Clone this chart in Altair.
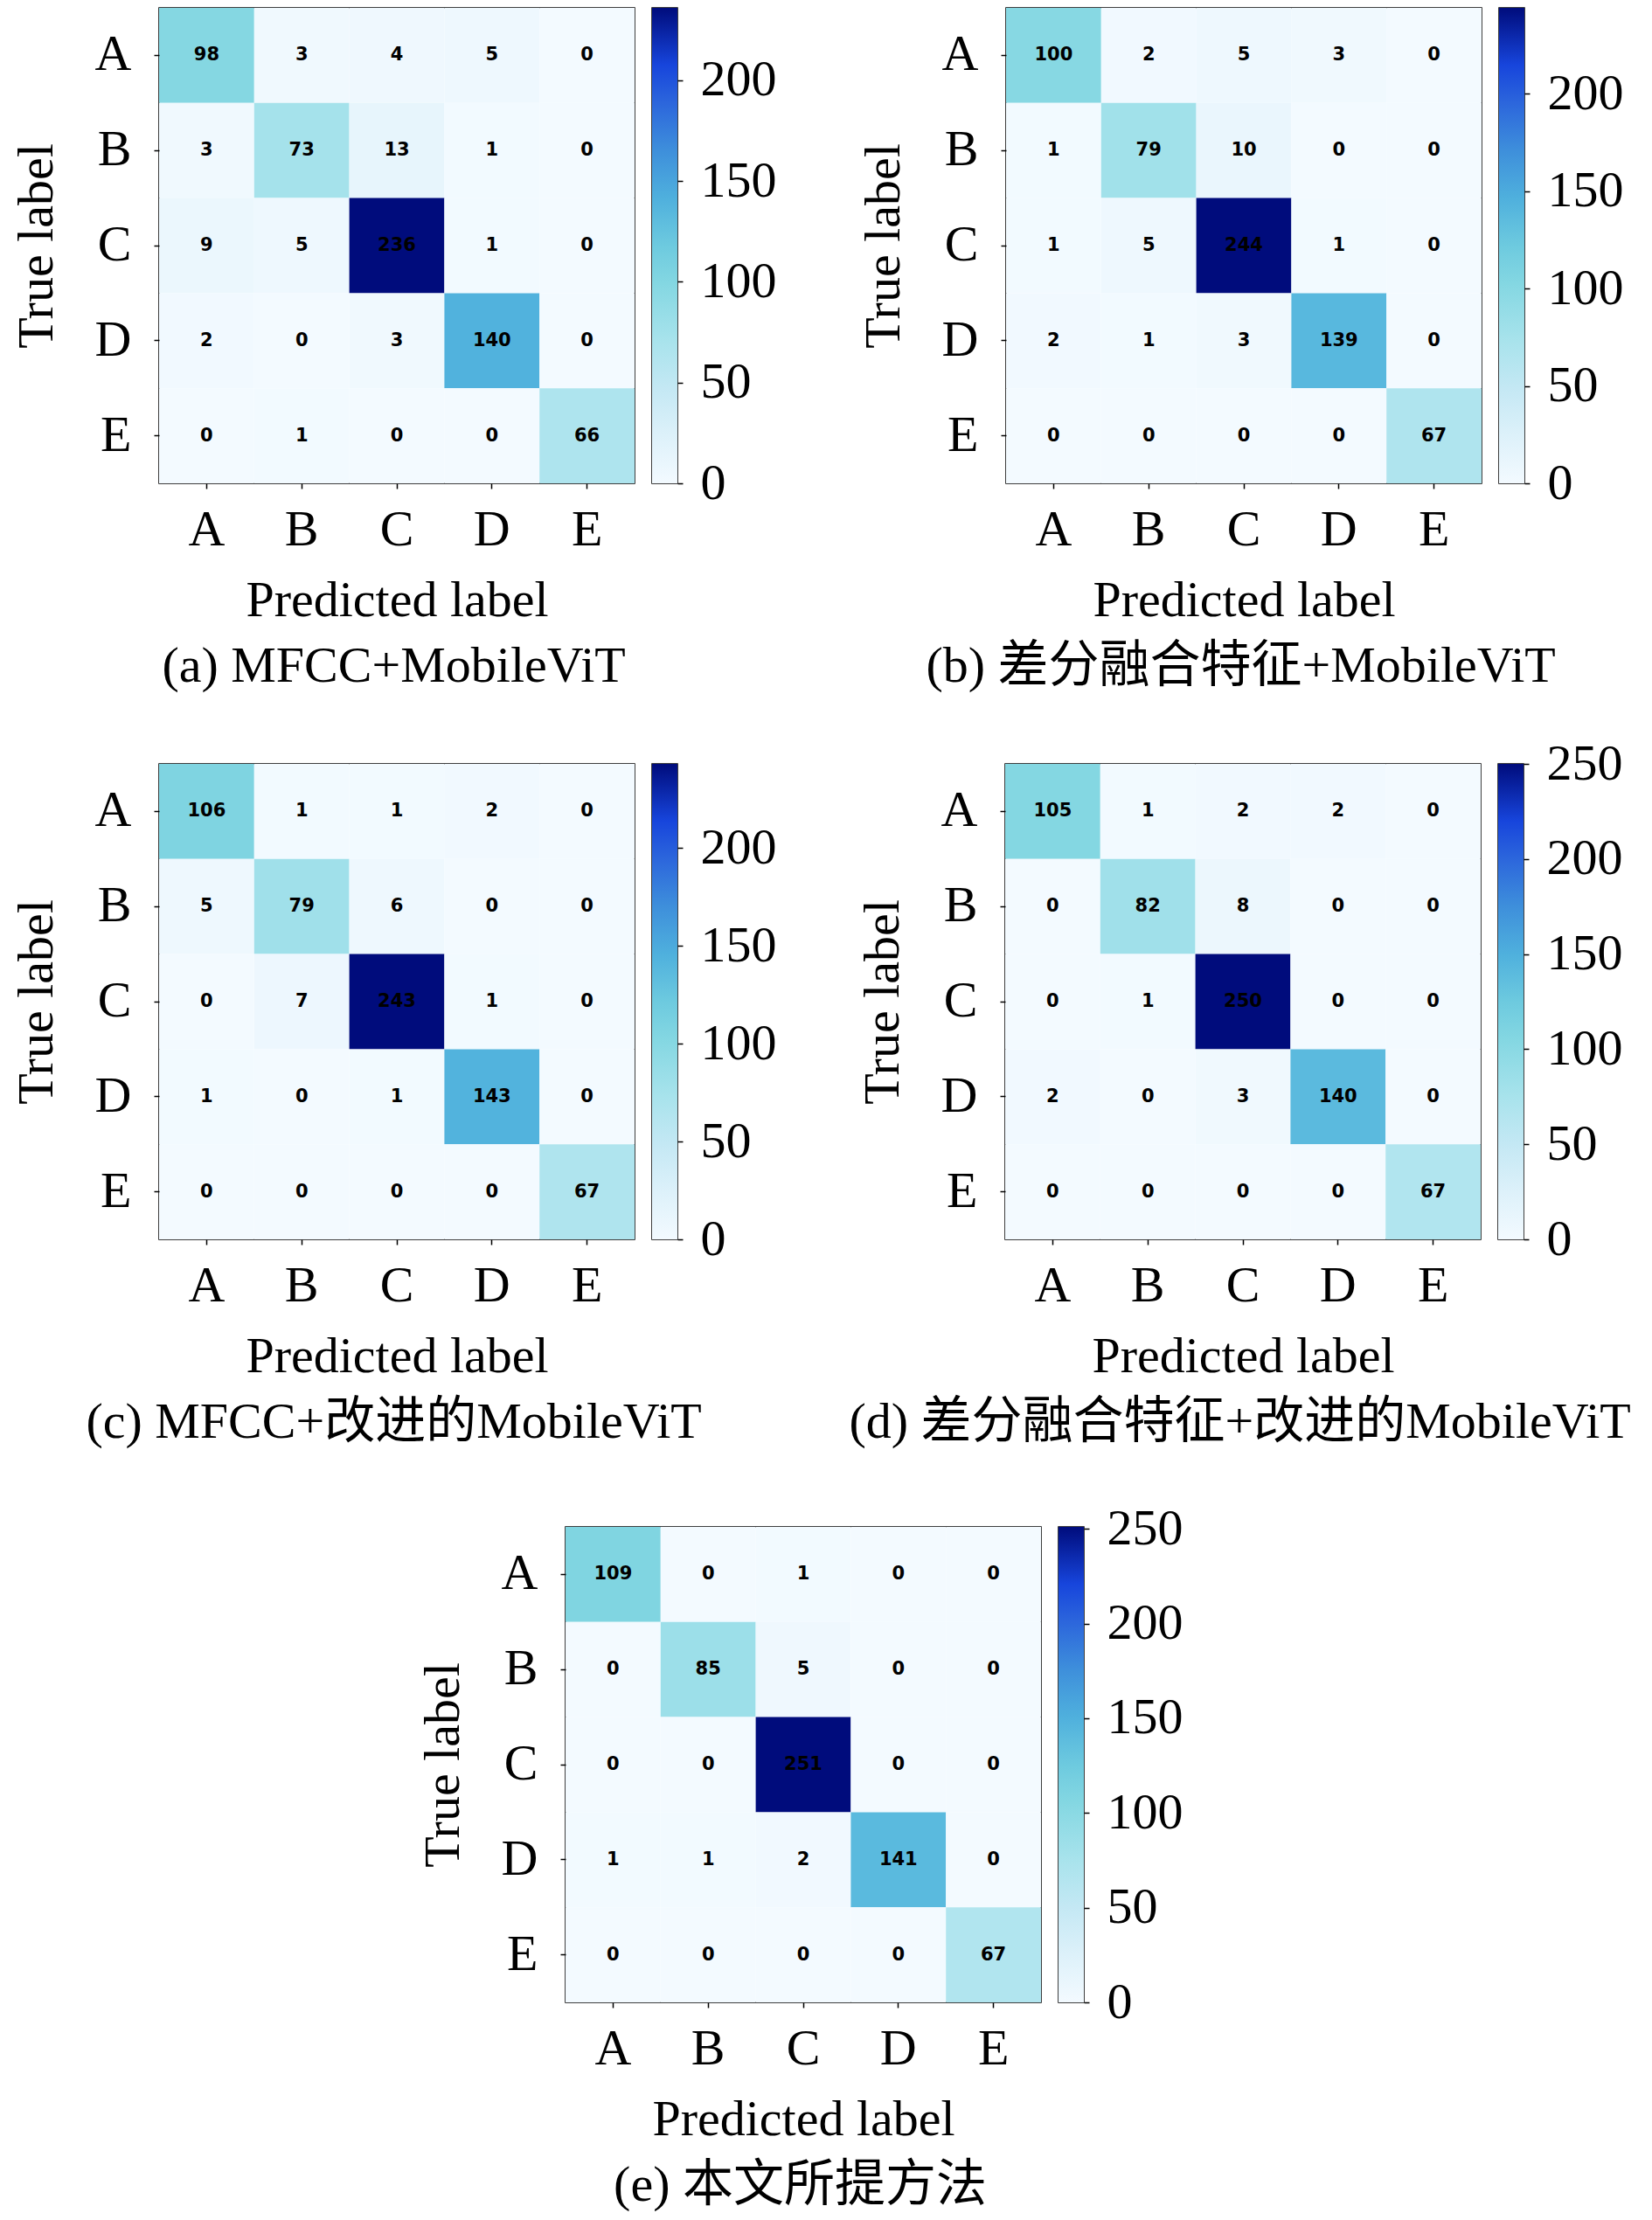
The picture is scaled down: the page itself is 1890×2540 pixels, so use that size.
import altair as alt
import pandas as pd

labels = ["A", "B", "C", "D", "E"]

cm_a = [[98, 3, 4, 5, 0], [3, 73, 13, 1, 0], [9, 5, 236, 1, 0], [2, 0, 3, 140, 0], [0, 1, 0, 0, 66]]
cm_b = [[100, 2, 5, 3, 0], [1, 79, 10, 0, 0], [1, 5, 244, 1, 0], [2, 1, 3, 139, 0], [0, 0, 0, 0, 67]]
cm_c = [[106, 1, 1, 2, 0], [5, 79, 6, 0, 0], [0, 7, 243, 1, 0], [1, 0, 1, 143, 0], [0, 0, 0, 0, 67]]
cm_d = [[105, 1, 2, 2, 0], [0, 82, 8, 0, 0], [0, 1, 250, 0, 0], [2, 0, 3, 140, 0], [0, 0, 0, 0, 67]]
cm_e = [[109, 0, 1, 0, 0], [0, 85, 5, 0, 0], [0, 0, 251, 0, 0], [1, 1, 2, 141, 0], [0, 0, 0, 0, 67]]

titles = [
    "(a) MFCC+MobileViT",
    "(b) 差分融合特征+MobileViT",
    "(c) MFCC+改进的MobileViT",
    "(d) 差分融合特征+改进的MobileViT",
    "(e) 本文所提方法",
]
cbar_ticks_a = [0, 50, 100, 150, 200]
cbar_ticks_b = [0, 50, 100, 150, 200]
cbar_ticks_c = [0, 50, 100, 150, 200]
cbar_ticks_d = [0, 50, 100, 150, 200, 250]
cbar_ticks_e = [0, 50, 100, 150, 200, 250]

# colormap stops (fraction of max, colour)
cmap_pos = [0.0, 0.1, 0.2, 0.3, 0.42, 0.5, 0.6, 0.7, 0.8, 0.88, 1.0]
cmap_col = ["#f3faff", "#ddf1fa", "#c4e8f4", "#a8e3ec", "#84d7e2", "#6dcadf",
            "#4fb0dd", "#3e8fdb", "#2c66dc", "#1745dc", "#000c7c"]

SERIF = "Liberation Serif, Noto Sans CJK SC"
FS = 58
SIZE = 544


def panel(cm, title, ticks):
    vmax = max(max(r) for r in cm)
    rows = []
    for i in range(5):
        for j in range(5):
            rows.append({"true": labels[i], "pred": labels[j], "count": cm[i][j]})
    df = pd.DataFrame(rows)
    base = alt.Chart(df).encode(
        x=alt.X("pred:N", sort=labels, axis=alt.Axis(
            title="Predicted label", labelAngle=0, labelFont=SERIF, labelFontSize=FS,
            labelColor="black", labelPadding=18, tickSize=6, tickColor="black", tickWidth=1.5,
            domain=False, titleFont=SERIF, titleFontSize=FS, titleFontWeight="normal",
            titleColor="black", titlePadding=23)),
        y=alt.Y("true:N", sort=labels, axis=alt.Axis(
            title="True label", labelAngle=0, labelFont=SERIF, labelFontSize=FS,
            labelColor="black", labelPadding=26, labelBaseline="middle", tickSize=6,
            tickColor="black", tickWidth=1.5, domain=False, titleFont=SERIF,
            titleFontSize=FS, titleFontWeight="normal", titleColor="black",
            titlePadding=37)),
    )
    rect = base.mark_rect().encode(
        color=alt.Color("count:Q", legend=None, scale=alt.Scale(
            domain=[p * vmax for p in cmap_pos], range=cmap_col, interpolate="rgb")))
    text = base.mark_text(font="DejaVu Sans", fontWeight="bold", fontSize=21,
                          color="black").encode(text="count:Q")
    heat = alt.layer(rect, text).properties(width=SIZE, height=SIZE)

    cb_df = pd.DataFrame({"lo": [0], "hi": [vmax], "a": [0], "b": [1]})
    grad = {"gradient": "linear", "x1": 0, "x2": 0, "y1": 1, "y2": 0,
            "stops": [{"offset": p, "color": c} for p, c in zip(cmap_pos, cmap_col)]}
    cbar = alt.Chart(cb_df).mark_rect(color=grad).encode(
        x=alt.X("a:Q", scale=alt.Scale(domain=[0, 1]), axis=None),
        x2="b:Q",
        y=alt.Y("lo:Q", scale=alt.Scale(domain=[0, vmax], nice=False, zero=True),
                axis=alt.Axis(orient="right", values=ticks, title=None, labelFont=SERIF,
                              labelFontSize=FS, labelColor="black", labelPadding=20,
                              tickSize=6, tickColor="black", tickWidth=1.5,
                              domain=False, grid=False, labelOverlap=False)),
        y2="hi:Q",
    ).properties(width=29, height=SIZE)
    return alt.hconcat(heat, cbar, spacing=18).resolve_scale(color="independent").properties(
        title=alt.TitleParams(title, orient="bottom", anchor="middle", frame="bounds",
                              font=SERIF, fontSize=FS, fontWeight="normal",
                              color="black", offset=17))


pa = panel(cm_a, titles[0], cbar_ticks_a)
pb = panel(cm_b, titles[1], cbar_ticks_b)
pc = panel(cm_c, titles[2], cbar_ticks_c)
pd_ = panel(cm_d, titles[3], cbar_ticks_d)
pe = panel(cm_e, titles[4], cbar_ticks_e)

spacer = alt.Chart(pd.DataFrame({"v": [0]}), view=alt.ViewBackground(stroke="transparent")).mark_point(opacity=0).encode(
    x=alt.X("v:Q", axis=None), y=alt.Y("v:Q", axis=None)
).properties(width=294, height=20)

row1 = alt.hconcat(pa, pb, spacing=92).resolve_scale(color="independent")
row2 = alt.hconcat(pc, pd_, spacing=82).resolve_scale(color="independent")
row3 = alt.hconcat(spacer, pe, spacing=0).resolve_scale(color="independent")

top = alt.vconcat(row1, row2, spacing=52).resolve_scale(color="independent")

chart = alt.vconcat(top, row3, spacing=62).resolve_scale(
    color="independent"
).properties(
    padding={"left": 4, "top": 0, "right": 5, "bottom": 0}
).configure_view(stroke="black", strokeWidth=1.5)

chart.save("out.html", embed_options={"renderer": "svg", "actions": False})
